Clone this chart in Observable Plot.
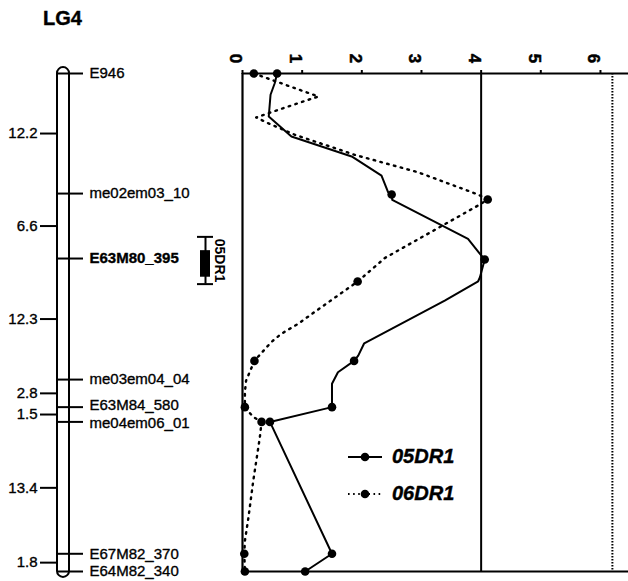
<!DOCTYPE html>
<html>
<head>
<meta charset="utf-8">
<script src="https://cdn.jsdelivr.net/npm/d3@7"></script>
<script src="https://cdn.jsdelivr.net/npm/@observablehq/plot@0.6"></script>
<style>
  html, body { margin: 0; padding: 0; background: #fff; }
  #root { position: relative; width: 628px; height: 581px; overflow: hidden; font-family: "Liberation Sans", Arial, sans-serif; }
  #root svg { position: absolute; top: 0; background: transparent; }
  #title { position: absolute; left: 43px; top: 7px; font-size: 20px; font-weight: bold; -webkit-text-stroke: 0.4px black; }
  #legend { position: absolute; left: 346px; top: 438px; font-size: 20px; font-weight: bold; font-style: italic; -webkit-text-stroke: 0.4px black; }
  .lg-row { display: flex; align-items: center; height: 37px; }
  .lg-row svg { position: static !important; margin-right: 8px; }
</style>
</head>
<body>
<div id="root">
  <div id="title">LG4</div>
</div>
<script>
// ---- data ----
const markerNames = ["E946", "me02em03_10", "E63M80_395", "me03em04_04", "E63M84_580", "me04em06_01", "E67M82_370", "E64M82_340"];
const intervalDistances = [12.2, 6.6, 12.3, 2.8, 1.5, 13.4, 1.8];
const qtlName = "05DR1";
const qtlBox = [18.0, 20.7];       // cM
const qtlWhisker = [16.6, 21.4];   // cM
const lodTicks = [0, 1, 2, 3, 4, 5, 6];
const lodThreshold = 4;
const lodDotted = 6.2;

// 05DR1 LOD profile (cM, LOD)
const cM05 = [0, 0.99, 2.16, 4.37, 6.40, 8.43, 10.37, 12.06, 12.3, 12.84, 16.80, 18.32, 18.9, 20.70, 21.11, 23.07, 27.41, 28.66, 29.2, 30.36, 31.53, 33.40, 33.9, 35.4, 48.8, 50.6];
const lod05 = [0.58, 0.54, 0.47, 0.44, 0.82, 1.83, 2.33, 2.44, 2.50, 2.51, 3.78, 3.98, 4.06, 3.98, 3.95, 3.39, 2.04, 1.94, 1.87, 1.60, 1.50, 1.50, 1.50, 0.46, 1.50, 1.05];
const dotCM05 = [0, 12.3, 18.9, 29.2, 33.9, 35.4, 48.8, 50.6];
const dotLod05 = [0.58, 2.50, 4.06, 1.87, 1.50, 0.46, 1.50, 1.05];

// 06DR1 LOD profile (cM, LOD)
const cM06 = [0, 2.34, 3.69, 4.47, 5.05, 6.23, 8.26, 10.03, 12.30, 12.8, 13.41, 18.73, 21.14, 23.75, 25.44, 26.45, 27.3, 29.2, 31.2, 32.4, 33.9, 34.9, 35.4, 37.0, 41.4, 45.1, 47.5, 48.8, 50.6];
const lod06 = [0.19, 1.27, 0.60, 0.23, 0.43, 0.88, 1.88, 2.94, 3.95, 4.11, 3.95, 2.39, 1.93, 1.32, 0.93, 0.65, 0.48, 0.20, 0.06, 0.04, 0.04, 0.18, 0.32, 0.29, 0.18, 0.10, 0.04, 0.03, 0.04];
const dotCM06 = [0, 12.8, 21.14, 29.2, 33.9, 35.4, 48.8, 50.6];
const dotLod06 = [0.19, 4.11, 1.93, 0.20, 0.04, 0.32, 0.03, 0.04];

// label nudges (px) where neighbouring marker names would collide
const labelNudge = {"E63M84_580": -1.5, "me04em06_01": 1.5};

// ---- derived tables ----
const markerPos = [0];
intervalDistances.forEach(d => markerPos.push(+(markerPos[markerPos.length - 1] + d).toFixed(2)));
const totalLen = markerPos[markerPos.length - 1];
const markers = markerNames.map((name, i) => ({name, pos: markerPos[i], bold: name === "E63M80_395", dy: labelNudge[name] || 0}));
const intervals = intervalDistances.map((d, i) => ({label: d.toFixed(1), mid: (markerPos[i] + markerPos[i + 1]) / 2}));
const series05 = cM05.map((c, i) => ({cM: c, lod: lod05[i]}));
const series06 = cM06.map((c, i) => ({cM: c, lod: lod06[i]}));
const dots05 = dotCM05.map((c, i) => ({cM: c, lod: dotLod05[i]}));
const dots06 = dotCM06.map((c, i) => ({cM: c, lod: dotLod06[i]}));

const H = 581, TOP = 73, BOTTOM = 10;
const font = "Liberation Sans, Arial, sans-serif";
const yScale = {domain: [0, totalLen], range: [TOP, H - BOTTOM], axis: null};
const heavy = {stroke: "black", strokeWidth: 0.35, fill: "black"};

// ---- left: linkage map ----
const barL = 57, barR = 69, tickR = 83, labelX = 89, distTickL = 40, distLabelX = 37;
const qtlL = 200, qtlR = 210, qtlC = 205, capL = 197, capR = 213, qtlLabelX = 219;
const capPad = 0.6;

const textMarks = markers.map(m => Plot.text([m], {
  x: labelX, y: "pos", text: "name", textAnchor: "start", fontSize: 15, dy: m.dy,
  fontWeight: m.bold ? "bold" : "normal", ...heavy
}));

const mapPlot = Plot.plot({
  width: 230, height: H,
  marginTop: 0, marginBottom: 0, marginLeft: 0, marginRight: 0,
  x: {domain: [0, 230], range: [0, 230], axis: null},
  y: yScale,
  style: {fontFamily: font, background: "transparent", overflow: "visible"},
  marks: [
    Plot.rect([{a: -capPad, b: totalLen + capPad}], {x1: barL, x2: barR, y1: "a", y2: "b", rx: 6, ry: 6, fill: "none", stroke: "black", strokeWidth: 2}),
    Plot.ruleY(markers, {y: "pos", x1: barL, x2: tickR, stroke: "black", strokeWidth: 2}),
    ...textMarks,
    Plot.ruleY(intervals, {y: "mid", x1: distTickL, x2: barL, stroke: "black", strokeWidth: 2}),
    Plot.text(intervals, {x: distLabelX, y: "mid", text: "label", textAnchor: "end", fontSize: 15, ...heavy}),
    // QTL interval
    Plot.ruleX([qtlC], {y1: qtlWhisker[0], y2: qtlWhisker[1], stroke: "black", strokeWidth: 2}),
    Plot.ruleY(qtlWhisker, {y: d => d, x1: capL, x2: capR, stroke: "black", strokeWidth: 2}),
    Plot.rect([{a: qtlBox[0], b: qtlBox[1]}], {x1: qtlL, x2: qtlR, y1: "a", y2: "b", fill: "black"}),
    Plot.text([qtlName], {x: qtlLabelX, y: (qtlWhisker[0] + qtlWhisker[1]) / 2, text: d => d, rotate: 90, fontSize: 14, fontWeight: "bold", fill: "black"})
  ]
});
mapPlot.style.left = "0px";
document.getElementById("root").appendChild(mapPlot);

// ---- right: LOD profile ----
const lodPlot = Plot.plot({
  width: 398, height: H,
  marginTop: TOP, marginBottom: BOTTOM, marginLeft: 12, marginRight: 0,
  x: {domain: [0, 6.47], axis: null},
  y: yScale,
  style: {fontFamily: font, background: "transparent", overflow: "visible"},
  marks: [
    Plot.ruleY([0], {stroke: "black", strokeWidth: 2}),
    Plot.ruleY([totalLen], {stroke: "black", strokeWidth: 2}),
    Plot.ruleX([0], {stroke: "black", strokeWidth: 2.2}),
    Plot.ruleX([lodThreshold], {stroke: "black", strokeWidth: 2}),
    Plot.ruleX([lodDotted], {stroke: "black", strokeWidth: 2, strokeDasharray: "1.5,1.5"}),
    Plot.axisX({anchor: "top", ticks: lodTicks, tickSize: 4, tickFormat: () => "", label: null, strokeWidth: 2}),
    Plot.text(lodTicks, {x: d => d, frameAnchor: "top", dy: -15, text: d => String(d), rotate: 90, fontSize: 17, fontWeight: "bold", stroke: "black", strokeWidth: 0.5, fill: "black"}),
    Plot.line(series06, {x: "lod", y: "cM", stroke: "black", strokeWidth: 2.4, strokeDasharray: "1.6,5.4"}),
    Plot.line(series05, {x: "lod", y: "cM", stroke: "black", strokeWidth: 2}),
    Plot.dot(dots06, {x: "lod", y: "cM", r: 4.3, fill: "black"}),
    Plot.dot(dots05, {x: "lod", y: "cM", r: 4.3, fill: "black"})
  ]
});
lodPlot.style.left = "230px";
document.getElementById("root").appendChild(lodPlot);

// ---- legend ----
const legendItems = [{name: "05DR1", dash: null}, {name: "06DR1", dash: "1.6,3.5"}];
const legend = document.createElement("div");
legend.id = "legend";
legendItems.forEach(item => {
  const row = document.createElement("div");
  row.className = "lg-row";
  const ns = "http://www.w3.org/2000/svg";
  const s = document.createElementNS(ns, "svg");
  s.setAttribute("width", "38"); s.setAttribute("height", "12");
  const ln = document.createElementNS(ns, "line");
  ln.setAttribute("x1", "2"); ln.setAttribute("x2", "36"); ln.setAttribute("y1", "6"); ln.setAttribute("y2", "6");
  ln.setAttribute("stroke", "black"); ln.setAttribute("stroke-width", "2");
  if (item.dash) ln.setAttribute("stroke-dasharray", item.dash);
  const c = document.createElementNS(ns, "circle");
  c.setAttribute("cx", "19"); c.setAttribute("cy", "6"); c.setAttribute("r", "4.3"); c.setAttribute("fill", "black");
  s.appendChild(ln); s.appendChild(c);
  const t = document.createElement("span");
  t.textContent = item.name;
  row.appendChild(s); row.appendChild(t);
  legend.appendChild(row);
});
document.getElementById("root").appendChild(legend);
</script>
</body>
</html>
